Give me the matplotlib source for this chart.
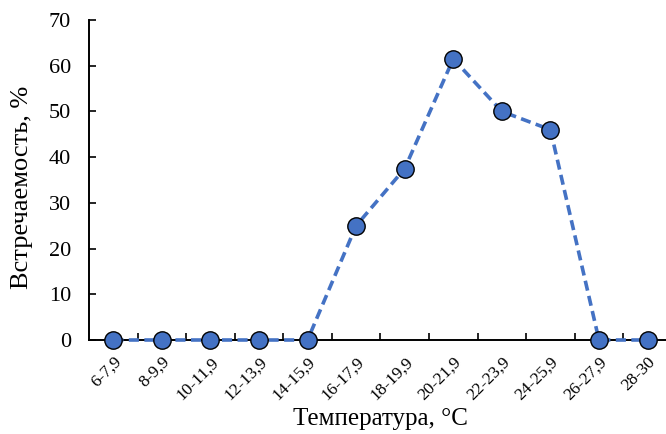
import matplotlib
matplotlib.use("Agg")
import matplotlib.pyplot as plt
import matplotlib.transforms as mtransforms

categories = ["6-7,9", "8-9,9", "10-11,9", "12-13,9", "14-15,9", "16-17,9",
              "18-19,9", "20-21,9", "22-23,9", "24-25,9", "26-27,9", "28-30"]
occurrence = [0, 0, 0, 0, 0, 25, 37.5, 61.5, 50, 46, 0, 0]
y_ticks = [0, 10, 20, 30, 40, 50, 60, 70]

plt.rcParams['font.family'] = ['Liberation Serif', 'DejaVu Serif']

fig = plt.figure(figsize=(6.66, 4.34), dpi=100)
ax = fig.add_axes([89 / 666, 94 / 434, 1 - 89 / 666, 320 / 434])

x = list(range(len(categories)))
blue = "#4472C4"
ax.plot(x, occurrence, linestyle=(0, (2.8, 1.5)), color=blue, linewidth=2.6,
        marker="o", markersize=12.5, markerfacecolor=blue,
        markeredgecolor="black", markeredgewidth=1.0, clip_on=False, zorder=3)

ax.set_xlim(-0.5, 11.38)
ax.set_ylim(0, 70)
ax.set_yticks(y_ticks)
ax.set_xticks(x)
ax.set_xticklabels(categories, rotation=45, ha="right", rotation_mode="anchor",
                   fontsize=12.5)
shift = mtransforms.ScaledTranslation(-1 / 100, 0, fig.dpi_scale_trans)
for lbl in ax.get_xticklabels():
    lbl.set_transform(lbl.get_transform() + shift)
ax.tick_params(axis="x", which="major", length=0, pad=10)
ax.set_xticks([i + 0.5 for i in x[:-1]], minor=True)
ax.tick_params(axis="x", which="minor", direction="in", length=5, width=1.2)
ax.tick_params(axis="y", direction="in", length=5, width=1.2, labelsize=16, pad=13)

for side in ("top", "right"):
    ax.spines[side].set_visible(False)
for side in ("left", "bottom"):
    ax.spines[side].set_linewidth(1.4)

ax.set_ylabel("Встречаемость, %", fontsize=19)
ax.yaxis.set_label_coords(22 / 666, 1 - 187 / 434, transform=fig.transFigure)
ax.set_xlabel("Температура, °C", fontsize=18)
ax.xaxis.set_label_coords(380 / 666, 1 - 419 / 434, transform=fig.transFigure)
ax.xaxis.label.set_va("center")
ax.yaxis.label.set_va("center")

fig.savefig("out.png", dpi=100)
